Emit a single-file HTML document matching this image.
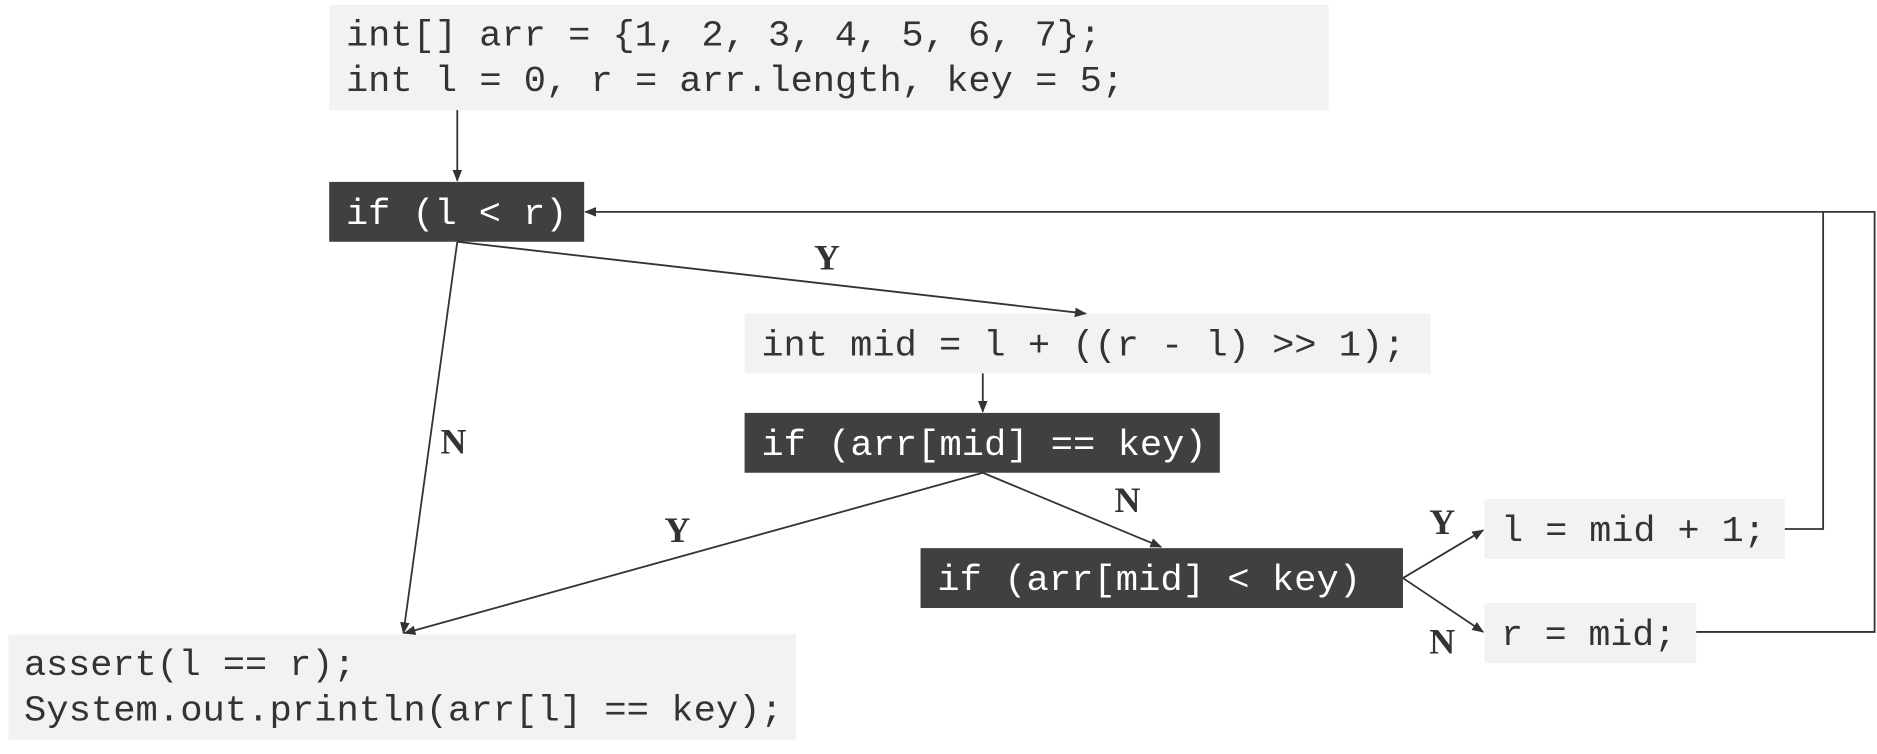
<!DOCTYPE html>
<html><head><meta charset="utf-8"><style>
html,body{margin:0;padding:0;background:#fff;}
svg{display:block;}
.m{font-family:"Liberation Mono",monospace;font-size:30px;}
.l{font-family:"Liberation Serif",serif;font-size:30px;font-weight:bold;fill:#333;}
</style></head><body>
<svg width="1877" height="754" viewBox="0 0 1568 630" preserveAspectRatio="none" xmlns="http://www.w3.org/2000/svg">
<defs><marker id="a" markerWidth="10" markerHeight="10" refX="9" refY="5" orient="auto" markerUnits="userSpaceOnUse"><path d="M0,1 L10,5 L0,9 z" fill="#333"/></marker></defs>
<g fill="#f2f2f2">
<rect x="275" y="4" width="835" height="88"/>
<rect x="622" y="262" width="573" height="50"/>
<rect x="1240" y="417" width="251" height="50"/>
<rect x="1240" y="504" width="177" height="50"/>
<rect x="7" y="530" width="658" height="88"/>
</g>
<g fill="#404040">
<rect x="275" y="152" width="213" height="50"/>
<rect x="622" y="345" width="397" height="50"/>
<rect x="769" y="458" width="403" height="50"/>
</g>
<g class="m" fill="#333">
<text x="289" y="38" textLength="631" lengthAdjust="spacingAndGlyphs">int[] arr = {1, 2, 3, 4, 5, 6, 7};</text>
<text x="289" y="76" textLength="650" lengthAdjust="spacingAndGlyphs">int l = 0, r = arr.length, key = 5;</text>
<text x="636" y="297" textLength="538" lengthAdjust="spacingAndGlyphs">int mid = l + ((r - l) &gt;&gt; 1);</text>
<text x="1254" y="452" textLength="221" lengthAdjust="spacingAndGlyphs">l = mid + 1;</text>
<text x="1254" y="539" textLength="146" lengthAdjust="spacingAndGlyphs">r = mid;</text>
<text x="20" y="564" textLength="277" lengthAdjust="spacingAndGlyphs">assert(l == r);</text>
<text x="20" y="602" textLength="634" lengthAdjust="spacingAndGlyphs">System.out.println(arr[l] == key);</text>
</g>
<g class="m" fill="#fff">
<text x="289" y="187" textLength="185" lengthAdjust="spacingAndGlyphs">if (l &lt; r)</text>
<text x="636" y="380" textLength="372" lengthAdjust="spacingAndGlyphs">if (arr[mid] == key)</text>
<text x="783" y="493" textLength="354" lengthAdjust="spacingAndGlyphs">if (arr[mid] &lt; key)</text>
</g>
<g stroke="#333" stroke-width="1.5" fill="none">
<line x1="382" y1="92" x2="382" y2="151" marker-end="url(#a)"/>
<line x1="382" y1="202" x2="907" y2="262" marker-end="url(#a)"/>
<line x1="382" y1="202" x2="337" y2="529" marker-end="url(#a)"/>
<line x1="821" y1="312" x2="821" y2="344" marker-end="url(#a)"/>
<line x1="821" y1="395" x2="338" y2="529" marker-end="url(#a)"/>
<line x1="821" y1="395" x2="970" y2="457" marker-end="url(#a)"/>
<line x1="1172" y1="483" x2="1239" y2="443" marker-end="url(#a)"/>
<line x1="1172" y1="483" x2="1239" y2="528" marker-end="url(#a)"/>
<polyline points="1491,442 1523,442 1523,177"/>
<polyline points="1417,528 1566,528 1566,177 489,177" marker-end="url(#a)"/>
</g>
<text class="l" x="680" y="225">Y</text>
<text class="l" x="368" y="379">N</text>
<text class="l" x="555" y="453">Y</text>
<text class="l" x="931" y="428">N</text>
<text class="l" x="1194" y="446">Y</text>
<text class="l" x="1194" y="546">N</text>
</svg>
</body></html>
